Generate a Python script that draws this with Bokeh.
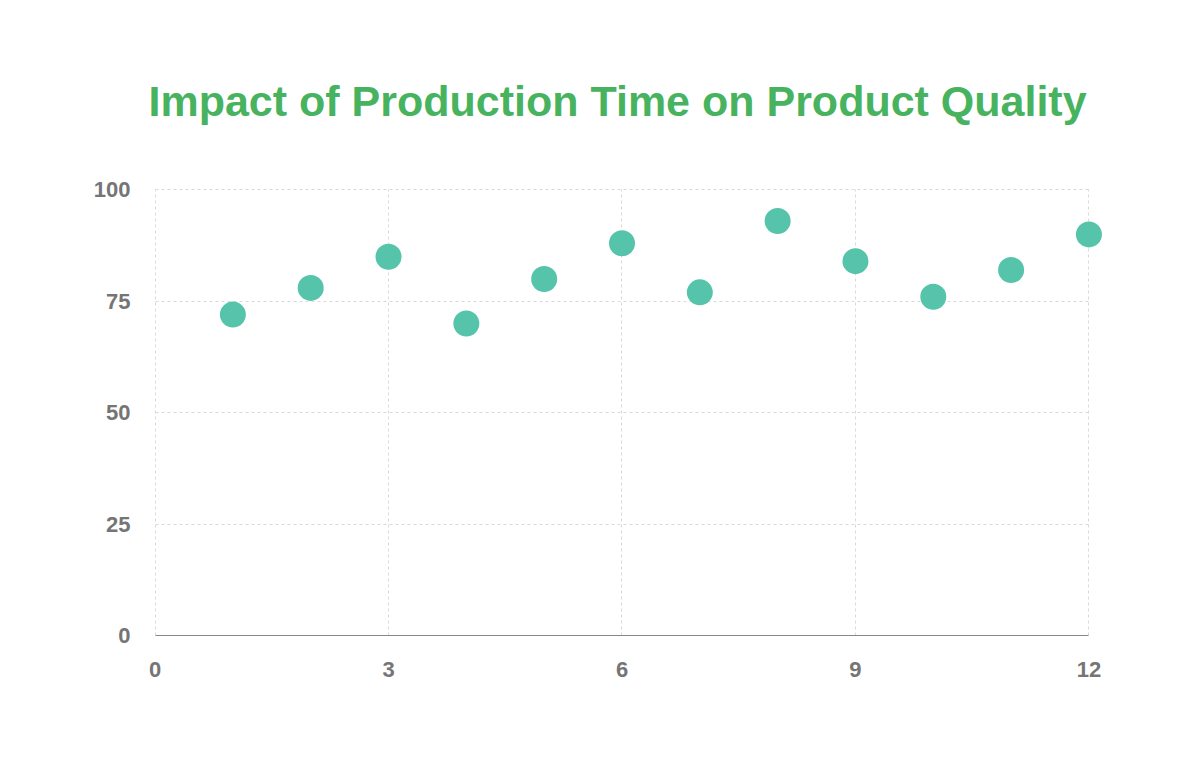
from bokeh.plotting import figure
from bokeh.models import Range1d, FixedTicker, Title
from bokeh.embed import file_html
from bokeh.resources import INLINE

production_time = [1, 2, 3, 4, 5, 6, 7, 8, 9, 10, 11, 12]
quality_score = [72, 78, 85, 70, 80, 88, 77, 93, 84, 76, 82, 90]
x_ticks = [0, 3, 6, 9, 12]
y_ticks = [0, 25, 50, 75, 100]

TITLE_COLOR = "#48B35F"
POINT_COLOR = "#55C4AB"
TICK_COLOR = "#757575"
FONT = "Liberation Sans"

p = figure(width=1200, height=771, output_backend="svg", toolbar_location=None,
           x_range=Range1d(-0.02, 12.2), y_range=Range1d(0, 100.3),
           min_border_left=153, min_border_right=96,
           min_border_top=188, min_border_bottom=136)
p.outline_line_color = None
p.background_fill_color = "white"
p.border_fill_color = "white"

t = Title(text="Impact of Production Time on Product Quality", align="left",
          text_font=FONT, text_font_size="43px", text_font_style="bold",
          text_color=TITLE_COLOR, offset=-5, standoff=128)
p.add_layout(t, "above")
p.title.visible = False

p.scatter(production_time, quality_score, size=26, color=POINT_COLOR, line_color=None)

for ax, ticks in ((p.xaxis, x_ticks), (p.yaxis, y_ticks)):
    ax.ticker = FixedTicker(ticks=ticks)
    ax.bounds = (ticks[0], ticks[-1])
    ax.major_label_text_font = FONT
    ax.major_label_text_font_size = "22px"
    ax.major_label_text_font_style = "bold"
    ax.major_label_text_color = TICK_COLOR
    ax.major_tick_line_color = None
    ax.minor_tick_line_color = None

p.yaxis.axis_line_color = None
p.yaxis.major_label_standoff = 17
p.xaxis.axis_line_color = "#888888"
p.xaxis.axis_line_width = 1.2
p.xaxis.major_label_standoff = 20

p.xgrid.cross_bounds = (y_ticks[0], y_ticks[-1])
p.ygrid.cross_bounds = (x_ticks[0], x_ticks[-1])
for g in (p.xgrid, p.ygrid):
    g.grid_line_color = "#d9d9d9"
    g.grid_line_dash = "3 3"
    g.grid_line_width = 1

open("out.html", "w").write(file_html(p, INLINE))
